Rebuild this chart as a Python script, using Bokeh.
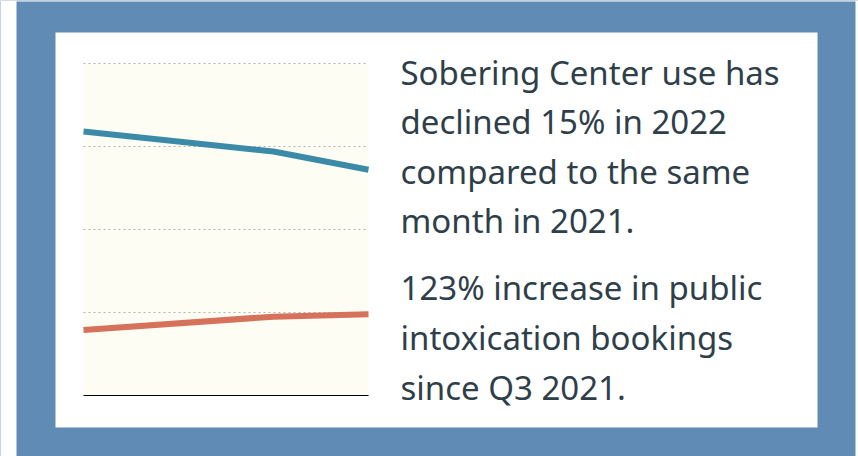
from bokeh.plotting import figure
from bokeh.models import BoxAnnotation, Label, Range1d
from bokeh.embed import file_html
from bokeh.resources import INLINE

# ---- data ----
periods = ["Start", "Mid", "End"]
period_pos = [0, 2, 3]
sobering_center = [318, 294, 272]
intox_bookings = [79, 95, 98]
grid_values = [100, 200, 300, 400]
para1 = ["Sobering Center use has", "declined 15% in 2022",
         "compared to the same", "month in 2021."]
para2 = ["123% increase in public", "intoxication bookings",
         "since Q3 2021."]

# ---- layout constants (page pixels) ----
W, H = 858, 456
OX, OY = 0, 0
X0_PX, X1_PX = 83, 368          # pixel of first / last period
Y0_PX, PX_PER_UNIT = 395, 0.83  # baseline pixel, px per y unit

xs_per_px = (period_pos[-1] - period_pos[0]) / (X1_PX - X0_PX)

def px2x(px):
    return period_pos[0] + (px - X0_PX) * xs_per_px

def px2y(py):
    return (Y0_PX - py) / PX_PER_UNIT

p = figure(width=W, height=H, output_backend="svg", toolbar_location=None,
           x_range=Range1d(px2x(OX), px2x(OX + W)),
           y_range=Range1d(px2y(OY + H), px2y(OY)),
           min_border=0, background_fill_color="#608bb4",
           border_fill_color="#ffffff", outline_line_color=None)
p.axis.visible = False
p.grid.visible = False

# white strips outside border, white card
p.add_layout(BoxAnnotation(right=px2x(16), fill_color="white", fill_alpha=1,
                           line_color=None, level="underlay"))
p.add_layout(BoxAnnotation(left=px2x(855), fill_color="white", fill_alpha=1,
                           line_color=None, level="underlay"))
p.add_layout(BoxAnnotation(bottom=px2y(1), fill_color="white", fill_alpha=1,
                           line_color=None, level="underlay"))
p.add_layout(BoxAnnotation(left=px2x(55), right=px2x(817), top=px2y(32),
                           bottom=px2y(427), fill_color="white", fill_alpha=1,
                           line_color=None, level="underlay"))
# cream plot area
p.add_layout(BoxAnnotation(left=period_pos[0], right=period_pos[-1],
                           bottom=0, top=grid_values[-1],
                           fill_color="#fdfdf3", fill_alpha=1, line_color=None,
                           level="underlay"))

# dotted grid lines
p.multi_line(xs=[[period_pos[0], period_pos[-1]] for _ in grid_values],
             ys=[[g, g] for g in grid_values],
             line_color="#b3b3b3", line_width=1, line_dash="2 3")
# baseline
p.line([period_pos[0], period_pos[-1]], [0, 0], line_color="#000000",
       line_width=1.2)

p.line(period_pos, sobering_center, line_color="#3b8ba8", line_width=6)
p.line(period_pos, intox_bookings, line_color="#d6715b", line_width=6)

TEXT_X = 400
for i, t in enumerate(para1):
    p.add_layout(Label(x=px2x(TEXT_X), y=px2y(72 + 49.3 * i), text=t,
                       text_font="Noto Sans", text_font_size="33px",
                       text_color="#2f3f4a", text_baseline="alphabetic"))
for i, t in enumerate(para2):
    p.add_layout(Label(x=px2x(TEXT_X), y=px2y(287 + 50 * i), text=t,
                       text_font="Noto Sans", text_font_size="33px",
                       text_color="#2f3f4a", text_baseline="alphabetic"))

open("out.html", "w").write(file_html(p, INLINE))
